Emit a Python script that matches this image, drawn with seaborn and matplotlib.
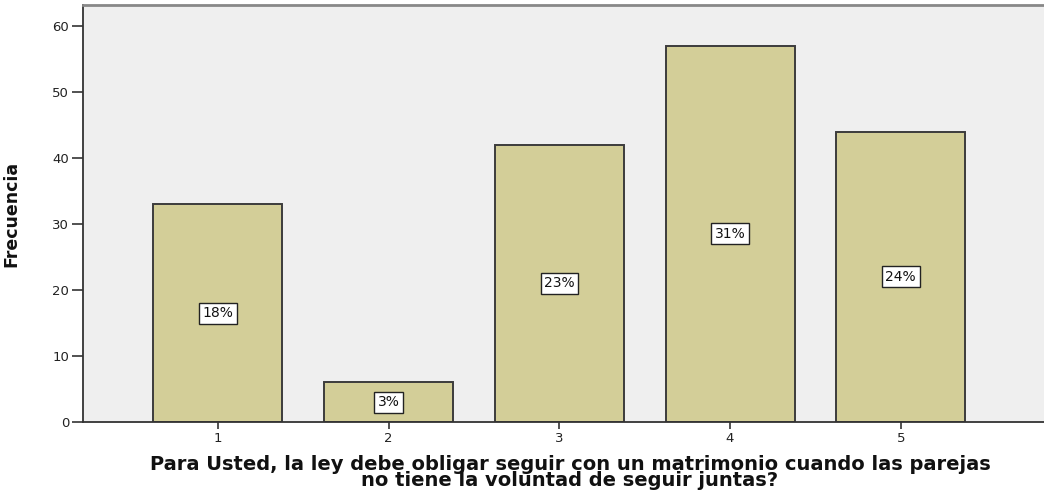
import matplotlib
matplotlib.use("Agg")
import matplotlib.pyplot as plt
import seaborn as sns
import pandas as pd

categories = ["1", "2", "3", "4", "5"]
frequencies = [33, 6, 42, 57, 44]
percent_labels = ["18%", "3%", "23%", "31%", "24%"]
y_ticks = [0, 10, 20, 30, 40, 50, 60]

sns.set_theme(style="white")
plt.rcParams['font.family'] = ['DejaVu Sans']

fig = plt.figure(figsize=(10.44, 4.93), dpi=100)
ax_w = 1 - 83/1044 + 0.01
ax = fig.add_axes([83/1044, 1 - 422/493, ax_w, (422 - 5)/493])
ax.set_facecolor("#EFEFEF")

df = pd.DataFrame({"cat": categories, "freq": frequencies})
sns.barplot(data=df, x="cat", y="freq", color="#D3CE98", edgecolor="#3C3C3C",
            linewidth=1.4, width=0.755, saturation=1, ax=ax)

for i, (v, lab) in enumerate(zip(frequencies, percent_labels)):
    ax.text(i, v / 2, lab, ha="center", va="center", fontsize=10,
            color="#111111",
            bbox=dict(boxstyle="square,pad=0.25", fc="white", ec="#222222", lw=1.0))

ax.set_xlim(-0.79, 4.90)
ax.set_ylim(0, 63.2)
ax.set_yticks(y_ticks)
ax.tick_params(axis="both", which="both", direction="out", width=1.2,
               color="#333333", labelsize=9.5, labelcolor="#222222",
               left=True, bottom=True, pad=2)
ax.tick_params(axis="y", length=8)
ax.tick_params(axis="x", length=5)
for sp in ["left", "bottom"]:
    ax.spines[sp].set_color("#333333")
    ax.spines[sp].set_linewidth(1.3)
ax.spines["top"].set_color("#888888")
ax.spines["top"].set_linewidth(2)
ax.spines["right"].set_visible(False)

ax.set_ylabel("Frecuencia", fontsize=12.5, fontweight="bold",
              family=['DejaVu Sans'], color="#111111")
ax.yaxis.set_label_coords(-63 / (1044 * ax_w), 0.5)
ax.set_xlabel("Para Usted, la ley debe obligar seguir con un matrimonio cuando las parejas\n"
              "no tiene la voluntad de seguir juntas?", fontsize=14, fontweight="bold",
              family=['DejaVu Sans'], linespacing=0.84, color="#111111")
ax.xaxis.set_label_coords((570 - 83) / (1044 * ax_w), -0.078)

fig.savefig("out.png", dpi=100)
